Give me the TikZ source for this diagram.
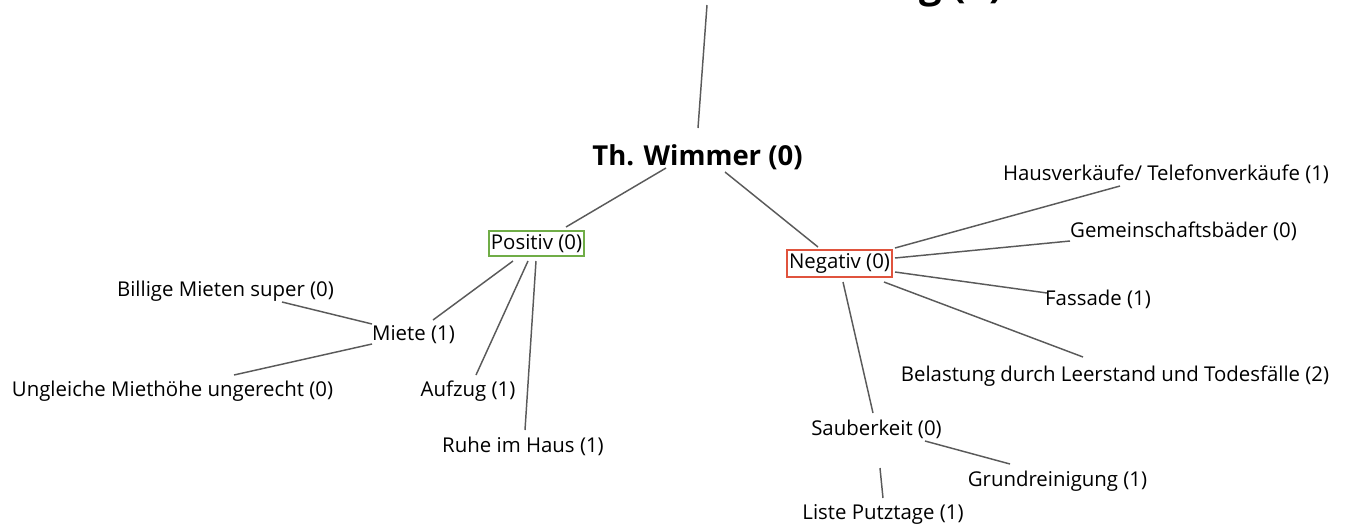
\documentclass[tikz,border=0pt]{standalone}
\usepackage{fontspec}
\setmainfont{Open Sans}
\usetikzlibrary{calc}
\definecolor{edgegray}{HTML}{5A5A5A}
\definecolor{posgreen}{HTML}{70AD47}
\definecolor{negred}{HTML}{E0533D}
\begin{document}
\begin{tikzpicture}[x=0.75pt,y=-0.75pt,
  lbl/.style={inner sep=0pt,font=\fontsize{15.3pt}{18pt}\selectfont},
  boxed/.style={lbl,draw=#1,line width=1.2pt,inner xsep=1.5pt,inner ysep=2.5pt},
  rootlbl/.style={inner sep=0pt,font=\fontsize{20.6pt}{24pt}\selectfont\bfseries},
  conn/.style={draw=edgegray,line width=1.1pt}]
\useasboundingbox (0,0) rectangle (1347,526);
\begin{scope}
\clip (0,0) rectangle (1347,526);
\node[anchor=base east,inner sep=0pt,font=\fontsize{30pt}{34pt}\selectfont\bfseries] (title) at (1003,-3) {g (1)};
\end{scope}
\coordinate (topend) at (707,5);
\node[rootlbl] (wim) at (697.5,157.5) {Th. Wimmer (0)};
\node[boxed=posgreen] (pos) at (536.5,243.5) {Positiv (0)};
\node[boxed=negred] (neg) at (839.5,263.5) {Negativ (0)};
\node[lbl] (bil) at (225.5,291) {Billige Mieten super (0)};
\node[lbl] (mie) at (413.5,335) {Miete (1)};
\node[lbl] (ung) at (172.5,391) {Ungleiche Miethöhe ungerecht (0)};
\node[lbl] (auf) at (468,391) {Aufzug (1)};
\node[lbl] (ruh) at (523,446) {Ruhe im Haus (1)};
\node[lbl] (hau) at (1166,174) {Hausverkäufe/ Telefonverkäufe (1)};
\node[lbl] (gem) at (1183.5,231) {Gemeinschaftsbäder (0)};
\node[lbl] (fas) at (1098,299) {Fassade (1)};
\node[lbl] (bel) at (1115,376) {Belastung durch Leerstand und Todesfälle (2)};
\node[lbl] (sau) at (876.5,429) {Sauberkeit (0)};
\node[lbl] (gru) at (1057.5,481) {Grundreinigung (1)};
\node[lbl] (lis) at (883,514) {Liste Putztage (1)};
\draw[conn] (topend) -- ($(wim)+(0.5,-29.5)$);
\draw[conn] ($(wim)+(-31.5,10.5)$) -- ($(pos)+(29.5,-16.5)$);
\draw[conn] ($(wim)+(27.5,14.5)$) -- ($(neg)+(-21.5,-16.5)$);
\draw[conn] ($(pos)+(-23.5,17.5)$) -- ($(mie)+(19.5,-15)$);
\draw[conn] ($(pos)+(-8.5,17.5)$) -- ($(auf)+(8,-16)$);
\draw[conn] ($(pos)+(-0.5,17.5)$) -- ($(ruh)+(2,-16)$);
\draw[conn] ($(mie)+(-41.5,-11)$) -- ($(bil)+(56.5,11)$);
\draw[conn] ($(mie)+(-41.5,9)$) -- ($(ung)+(61.5,-16)$);
\draw[conn] ($(neg)+(55.5,-15.5)$) -- ($(hau)+(-46,12)$);
\draw[conn] ($(neg)+(55.5,-5.5)$) -- ($(gem)+(-113.5,10)$);
\draw[conn] ($(neg)+(55.5,8.5)$) -- ($(fas)+(-51,-6)$);
\draw[conn] ($(neg)+(44.5,18.5)$) -- ($(bel)+(-32,-19)$);
\draw[conn] ($(neg)+(3.5,18.5)$) -- ($(sau)+(-3.5,-16)$);
\draw[conn] ($(sau)+(48.5,12)$) -- ($(gru)+(-47.5,-17)$);
\draw[conn] ($(sau)+(3.5,39)$) -- ($(lis)+(0,-16)$);
\end{tikzpicture}
\end{document}
